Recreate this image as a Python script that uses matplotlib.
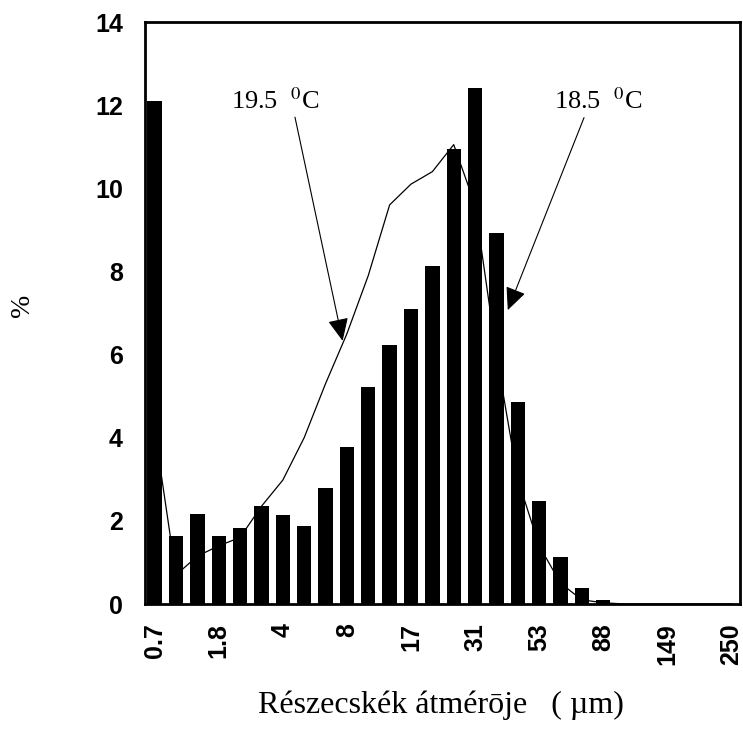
import numpy as np
import matplotlib.pyplot as plt

plt.rcParams["mathtext.fontset"] = "stix"

# Datos: distribución de tamaño de partículas (%)
barras_185 = [12.1, 1.64, 2.17, 1.64, 1.83, 2.35, 2.15, 1.88, 2.78, 3.78,
              5.23, 6.23, 7.1, 8.12, 10.95, 12.42, 8.92, 4.86, 2.48, 1.13,
              0.38, 0.1, 0, 0, 0, 0, 0, 0]
linea_195 = [4.2, 0.7, 1.15, 1.4, 1.6, 2.35, 2.98, 4.0, 5.3, 6.5,
             7.9, 9.6, 10.1, 10.4, 11.05, 9.6, 6.0, 3.0, 1.4, 0.5,
             0.1, 0.03, 0, 0, 0, 0, 0, 0]
etiquetas_x = ["0.7", "1.8", "4", "8", "17", "31", "53", "88", "149", "250"]
paso_etiquetas = 3

x = np.arange(len(barras_185))

fig = plt.figure(figsize=(7.43, 7.37), dpi=100)
ax = fig.add_axes([145 / 743, 1 - 604 / 737, (740 - 145) / 743, (604 - 22) / 737])

# Línea 19.5 °C por debajo de las barras
ax.plot(x, linea_195, color="black", linewidth=0.9, zorder=2)
# Barras 18.5 °C
ax.bar(x, barras_185, width=0.67, color="black", zorder=3)

ax.set_xlim(-0.45, 27.4)
ax.set_ylim(0, 14)
ax.set_yticks(np.arange(0, 15, 2))
ax.set_xticks(x[::paso_etiquetas])
ax.set_xticklabels(etiquetas_x, rotation=90)
ax.tick_params(axis="both", length=0, labelsize=18)
ax.tick_params(axis="y", pad=16)
ax.tick_params(axis="x", pad=14)
for lab in ax.get_xticklabels() + ax.get_yticklabels():
    lab.set_fontfamily("Liberation Sans")
    lab.set_fontweight("bold")

for s in ax.spines.values():
    s.set_linewidth(2)
    s.set_color("black")

# Anotaciones con flechas
flecha = dict(arrowstyle="-|>,head_length=0.7,head_width=0.32", color="black",
              lw=0.8, shrinkA=0, shrinkB=0, mutation_scale=20)
ax.annotate("", xy=(8.8, 6.33), xytext=(6.57, 11.71), arrowprops=flecha, zorder=5)
ax.annotate("", xy=(16.53, 7.07), xytext=(20.1, 11.7), arrowprops=flecha, zorder=5)

ax.text(3.56, 12.1, r"19.5  $^{0}$C", fontsize=19, family="Liberation Serif",
        va="center", ha="left", zorder=5)
ax.text(18.7, 12.1, r"18.5  $^{0}$C", fontsize=19, family="Liberation Serif",
        va="center", ha="left", zorder=5)

# Títulos de ejes
fig.text(441 / 743, 1 - 705 / 737, "Részecskék átmérōje   ( µm)", fontsize=23,
         family="Liberation Serif", ha="center", va="center")
fig.text(22 / 743, 1 - 305 / 737, "%", fontsize=20, family="Liberation Serif",
         ha="center", va="center", rotation=90)

fig.savefig("out.png", dpi=100)
